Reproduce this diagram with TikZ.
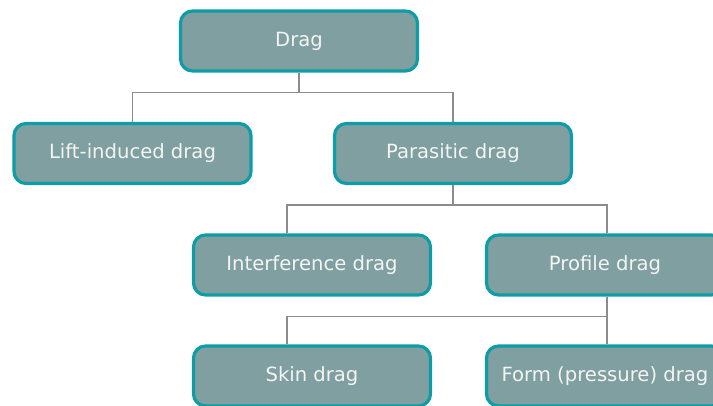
\documentclass[tikz,border=0pt]{standalone}
\usepackage{fontspec}
\setmainfont{DejaVu Sans}
\definecolor{boxfill}{HTML}{7F9FA0}
\definecolor{boxedge}{HTML}{0E9CA6}
\definecolor{boxtext}{HTML}{F4F4F4}
\definecolor{linkgray}{HTML}{8C8C8C}
\begin{document}
\begin{tikzpicture}[x=1pt,y=-1pt,
  block/.style={draw=boxedge, line width=3.2pt, fill=boxfill, rounded corners=12pt,
    minimum width=237pt, minimum height=60pt, inner sep=0pt,
    text=boxtext, font=\fontsize{19.6}{21}\selectfont},
  link/.style={draw=linkgray, line width=1.5pt}]
\useasboundingbox (0,0) rectangle (713,405);
\clip (0,0) rectangle (713,405);

% boxes
\node[block] (drag)    at (299,41)    {Drag};
\node[block] (lift)    at (132.5,153.5) {Lift-induced drag};
\node[block] (para)    at (453,153.5) {Parasitic drag};
\node[block] (interf)  at (312,265)   {Interference drag};
\node[block] (profile) at (605,265)   {Profile drag};
\node[block] (skin)    at (312,376)   {Skin drag};
\node[block] (form)    at (605,376)   {Form (pressure) drag};

% connectors
\draw[link] (drag.south) -- ++(0,20) -| (lift.north);
\draw[link] (drag.south) -- ++(0,20) -| (para.north);
\draw[link] (para.south) -- ++(0,20) -| ([xshift=-25pt]interf.north);
\draw[link] (para.south) -- ++(0,20) -| ([xshift=2pt]profile.north);
\draw[link] ([xshift=2pt]profile.south) -- ++(0,20) -| ([xshift=-25pt]skin.north);
\draw[link] ([xshift=2pt]profile.south) -- ([xshift=2pt]form.north);
\end{tikzpicture}
\end{document}
